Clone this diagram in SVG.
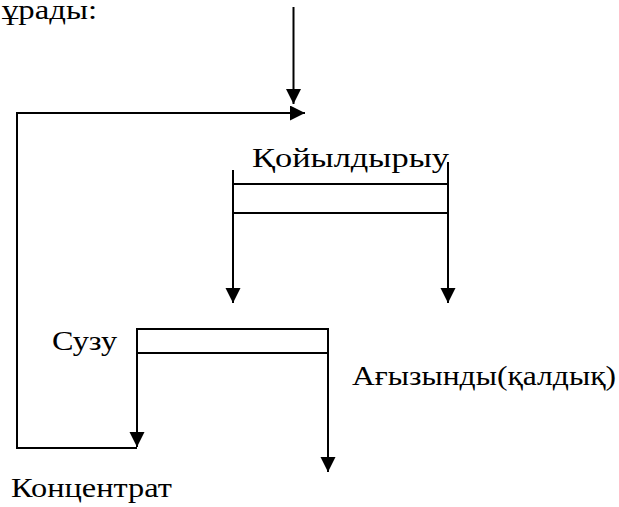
<svg xmlns="http://www.w3.org/2000/svg" width="619" height="507" viewBox="0 0 619 507">
  <style>
    .ln { fill: none; stroke: #000; stroke-width: 2; }
  </style>
  <defs>
    <marker id="arrow" markerUnits="userSpaceOnUse" markerWidth="16" markerHeight="16"
            refX="15" refY="7.5" orient="auto">
      <path d="M0,0 L15,7.5 L0,15 Z" fill="#000"/>
    </marker>
  </defs>

  <rect width="619" height="507" fill="#fff"/>

  <g font-family="'Liberation Serif', 'Times New Roman', serif" font-size="28" fill="#000">
    <!-- heading fragment -->
    <text x="2" y="19" textLength="95" lengthAdjust="spacingAndGlyphs">ұрады:</text>

    <!-- thickener -->
    <g id="thickener">
      <line class="ln" x1="233" y1="184" x2="448" y2="184"/>
      <line class="ln" x1="233" y1="213" x2="448" y2="213"/>
      <text x="252" y="167" textLength="197" lengthAdjust="spacingAndGlyphs">Қойылдырыу</text>
    </g>

    <!-- filter -->
    <g id="filter">
      <line class="ln" x1="137" y1="329" x2="328" y2="329"/>
      <line class="ln" x1="137" y1="353" x2="328" y2="353"/>
      <text x="52" y="350" textLength="65" lengthAdjust="spacingAndGlyphs">Сузу</text>
    </g>

    <!-- output labels -->
    <g id="tailings">
      <text x="352" y="385" textLength="264" lengthAdjust="spacingAndGlyphs">Ағызынды(қалдық)</text>
    </g>
    <g id="concentrate">
      <text x="11" y="497" textLength="161" lengthAdjust="spacingAndGlyphs">Концентрат</text>
    </g>
  </g>

  <!-- connectors -->
  <g id="connectors">
    <!-- feed -->
    <path class="ln" d="M293.5,7 V104" marker-end="url(#arrow)"/>
    <!-- recycle loop from concentrate back to feed -->
    <path class="ln" d="M137,448 H17 V113 H305" marker-end="url(#arrow)"/>
    <!-- thickener outlets -->
    <path class="ln" d="M233,170 V303" marker-end="url(#arrow)"/>
    <path class="ln" d="M448,162 V303" marker-end="url(#arrow)"/>
    <!-- filter outlets -->
    <path class="ln" d="M137,328 V447" marker-end="url(#arrow)"/>
    <path class="ln" d="M328,328 V472" marker-end="url(#arrow)"/>
  </g>
</svg>
